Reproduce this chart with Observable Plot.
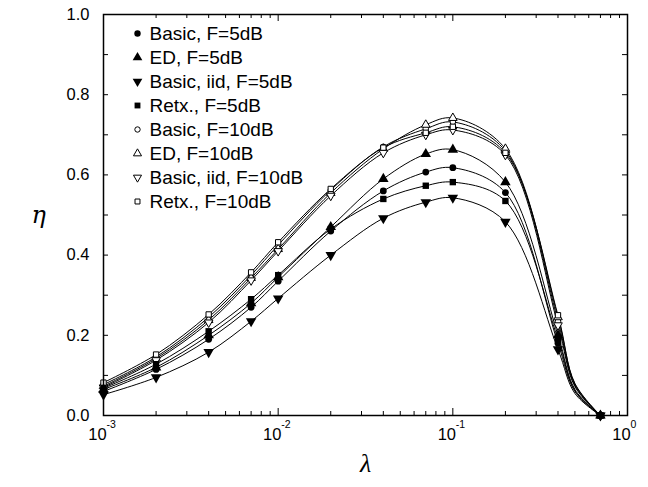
<!DOCTYPE html>
<html>
<head>
<meta charset="utf-8">
<script src="https://cdn.jsdelivr.net/npm/d3@7"></script>
<script src="https://cdn.jsdelivr.net/npm/@observablehq/plot@0.6"></script>
<style>
  html, body { margin: 0; padding: 0; background: white; }
  #chart svg { display: block; }
</style>
</head>
<body>
<div id="chart"></div>
<script>
// ---- data ----
const lambda = [0.001, 0.002, 0.004, 0.007, 0.01, 0.02, 0.04, 0.07, 0.1, 0.2, 0.4, 0.7];
const seriesNames = ["Basic, F=5dB", "ED, F=5dB", "Basic, iid, F=5dB", "Retx., F=5dB",
                     "Basic, F=10dB", "ED, F=10dB", "Basic, iid, F=10dB", "Retx., F=10dB"];
const basic5  = [0.060, 0.115, 0.190, 0.270, 0.335, 0.460, 0.560, 0.607, 0.618, 0.556, 0.180, 0.0];
const ed5     = [0.065, 0.120, 0.200, 0.280, 0.345, 0.470, 0.590, 0.652, 0.663, 0.582, 0.200, 0.0];
const iid5    = [0.052, 0.095, 0.158, 0.235, 0.292, 0.400, 0.492, 0.532, 0.543, 0.483, 0.165, 0.0];
const retx5   = [0.068, 0.128, 0.210, 0.290, 0.350, 0.465, 0.540, 0.573, 0.582, 0.535, 0.190, 0.0];
const basic10 = [0.077, 0.146, 0.245, 0.350, 0.425, 0.562, 0.670, 0.715, 0.732, 0.660, 0.235, 0.0];
const ed10    = [0.073, 0.142, 0.238, 0.343, 0.415, 0.555, 0.665, 0.725, 0.742, 0.665, 0.245, 0.0];
const iid10   = [0.070, 0.138, 0.232, 0.337, 0.410, 0.548, 0.655, 0.700, 0.712, 0.650, 0.225, 0.0];
const retx10  = [0.082, 0.152, 0.252, 0.357, 0.432, 0.565, 0.668, 0.705, 0.720, 0.655, 0.250, 0.0];
// extra point of the curves (no marker) between 0.4 and 0.7
const lambdaTail = 0.5;
const tail = [0.060, 0.065, 0.055, 0.062, 0.075, 0.080, 0.072, 0.078];

const yTickLabels = [0, 0.2, 0.4, 0.6, 0.8, 1.0];
const yTicks = [0, 0.1, 0.2, 0.3, 0.4, 0.5, 0.6, 0.7, 0.8, 0.9, 1.0];
const xDecades = [0.001, 0.01, 0.1, 1];
const xMinor = [];
for (const d of [0.001, 0.01, 0.1]) for (let k = 2; k <= 9; k++) xMinor.push(+(d * k).toPrecision(3));

// ---- build tables ----
const values = [basic5, ed5, iid5, retx5, basic10, ed10, iid10, retx10];
const points = [];
const lines = [];
values.forEach((vals, s) => {
  vals.forEach((v, i) => {
    points.push({series: seriesNames[s], lambda: lambda[i], eta: v});
    lines.push({series: seriesNames[s], lambda: lambda[i], eta: v});
    if (lambda[i] === 0.4) lines.push({series: seriesNames[s], lambda: lambdaTail, eta: tail[s]});
  });
});

// inverted triangle symbol
const triangleDown = {
  draw(context, size) {
    const y = -Math.sqrt(size / (Math.sqrt(3) * 3));
    context.moveTo(0, -2 * y);
    context.lineTo(-Math.sqrt(3) * y, y);
    context.lineTo(Math.sqrt(3) * y, y);
    context.closePath();
  }
};
const symbols = ["circle", "triangle", triangleDown, "square", "circle", "triangle", triangleDown, "square"];
const filled = [true, true, true, true, false, false, false, false];
const markerR = [3.4, 3.9, 3.9, 3.6, 2.8, 3.2, 3.2, 3.0];
const legendR = [3.2, 3.6, 3.6, 3.3, 2.7, 3.0, 3.0, 2.8];

const W = 648, H = 487;
const mL = 103, mR = 21, mT = 14, mB = 72;
const pw = W - mL - mR, ph = H - mT - mB;
const font = "Liberation Sans, Arial, Helvetica, sans-serif";

const marks = [];
// curves
marks.push(Plot.line(lines, {x: "lambda", y: "eta", z: "series", curve: "catmull-rom", stroke: "black", strokeWidth: 1}));
// markers (10 dB first, 5 dB on top)
[4, 5, 6, 7, 0, 1, 2, 3].forEach(s => {
  const name = seriesNames[s];
  marks.push(Plot.dot(points.filter(d => d.series === name), {
    x: "lambda", y: "eta", symbol: symbols[s], r: markerR[s],
    fill: filled[s] ? "black" : "white", stroke: filled[s] ? "none" : "black", strokeWidth: 1
  }));
});
// frame
marks.push(Plot.frame({stroke: "black", strokeWidth: 1.5}));
// inward ticks: y left/right
marks.push(Plot.tickY(yTicks, {y: d => d, insetRight: pw - 5, stroke: "black"}));
marks.push(Plot.tickY(yTicks, {y: d => d, insetLeft: pw - 5, stroke: "black"}));
// inward ticks: x bottom/top
marks.push(Plot.tickX(xDecades, {x: d => d, insetTop: ph - 7, stroke: "black"}));
marks.push(Plot.tickX(xDecades, {x: d => d, insetBottom: ph - 7, stroke: "black"}));
marks.push(Plot.tickX(xMinor, {x: d => d, insetTop: ph - 4, stroke: "black"}));
marks.push(Plot.tickX(xMinor, {x: d => d, insetBottom: ph - 4, stroke: "black"}));
// y tick labels
marks.push(Plot.text(yTickLabels, {y: d => d, text: d => d3.format(".1f")(d), frameAnchor: "left", dx: -14, textAnchor: "end", fontSize: 16.5, fontFamily: font, fill: "black"}));
// x tick labels 10^k
marks.push(Plot.text(xDecades, {x: d => d, text: () => "10", frameAnchor: "bottom", dx: -6, dy: 19, lineAnchor: "middle", fontSize: 16.5, fontFamily: font, fill: "black"}));
marks.push(Plot.text(xDecades, {x: d => d, text: d => String(Math.round(Math.log10(d))), frameAnchor: "bottom", dx: 3, dy: 9, textAnchor: "start", lineAnchor: "middle", fontSize: 10.5, fontFamily: font, fill: "black"}));
// axis titles
marks.push(Plot.text(["η"], {frameAnchor: "left", dx: -72, text: d => d, fontSize: 24, fontStyle: "italic", fontFamily: "DejaVu Serif, Liberation Serif, serif", fill: "black"}));
marks.push(Plot.text(["λ"], {frameAnchor: "bottom", dy: 48, text: d => d, fontSize: 26, fontStyle: "italic", fontFamily: "Liberation Serif, DejaVu Serif, serif", fill: "black", lineAnchor: "middle"}));
// legend
seriesNames.forEach((name, s) => {
  const dy = 19 + 24 * s;
  marks.push(Plot.dot([name], {frameAnchor: "top-left", dx: 34, dy, symbol: symbols[s], r: legendR[s],
    fill: filled[s] ? "black" : "white", stroke: filled[s] ? "none" : "black", strokeWidth: 1}));
  marks.push(Plot.text([name], {frameAnchor: "top-left", dx: 46, dy, text: d => d, textAnchor: "start", lineAnchor: "middle", fontSize: 19, fontFamily: font, fill: "black"}));
});

const chart = Plot.plot({
  width: W, height: H,
  marginLeft: mL, marginRight: mR, marginTop: mT, marginBottom: mB,
  x: {type: "log", domain: [0.001, 1], axis: null},
  y: {domain: [0, 1], axis: null},
  style: {background: "white", fontFamily: font},
  marks
});
document.getElementById("chart").appendChild(chart);
</script>
</body>
</html>
